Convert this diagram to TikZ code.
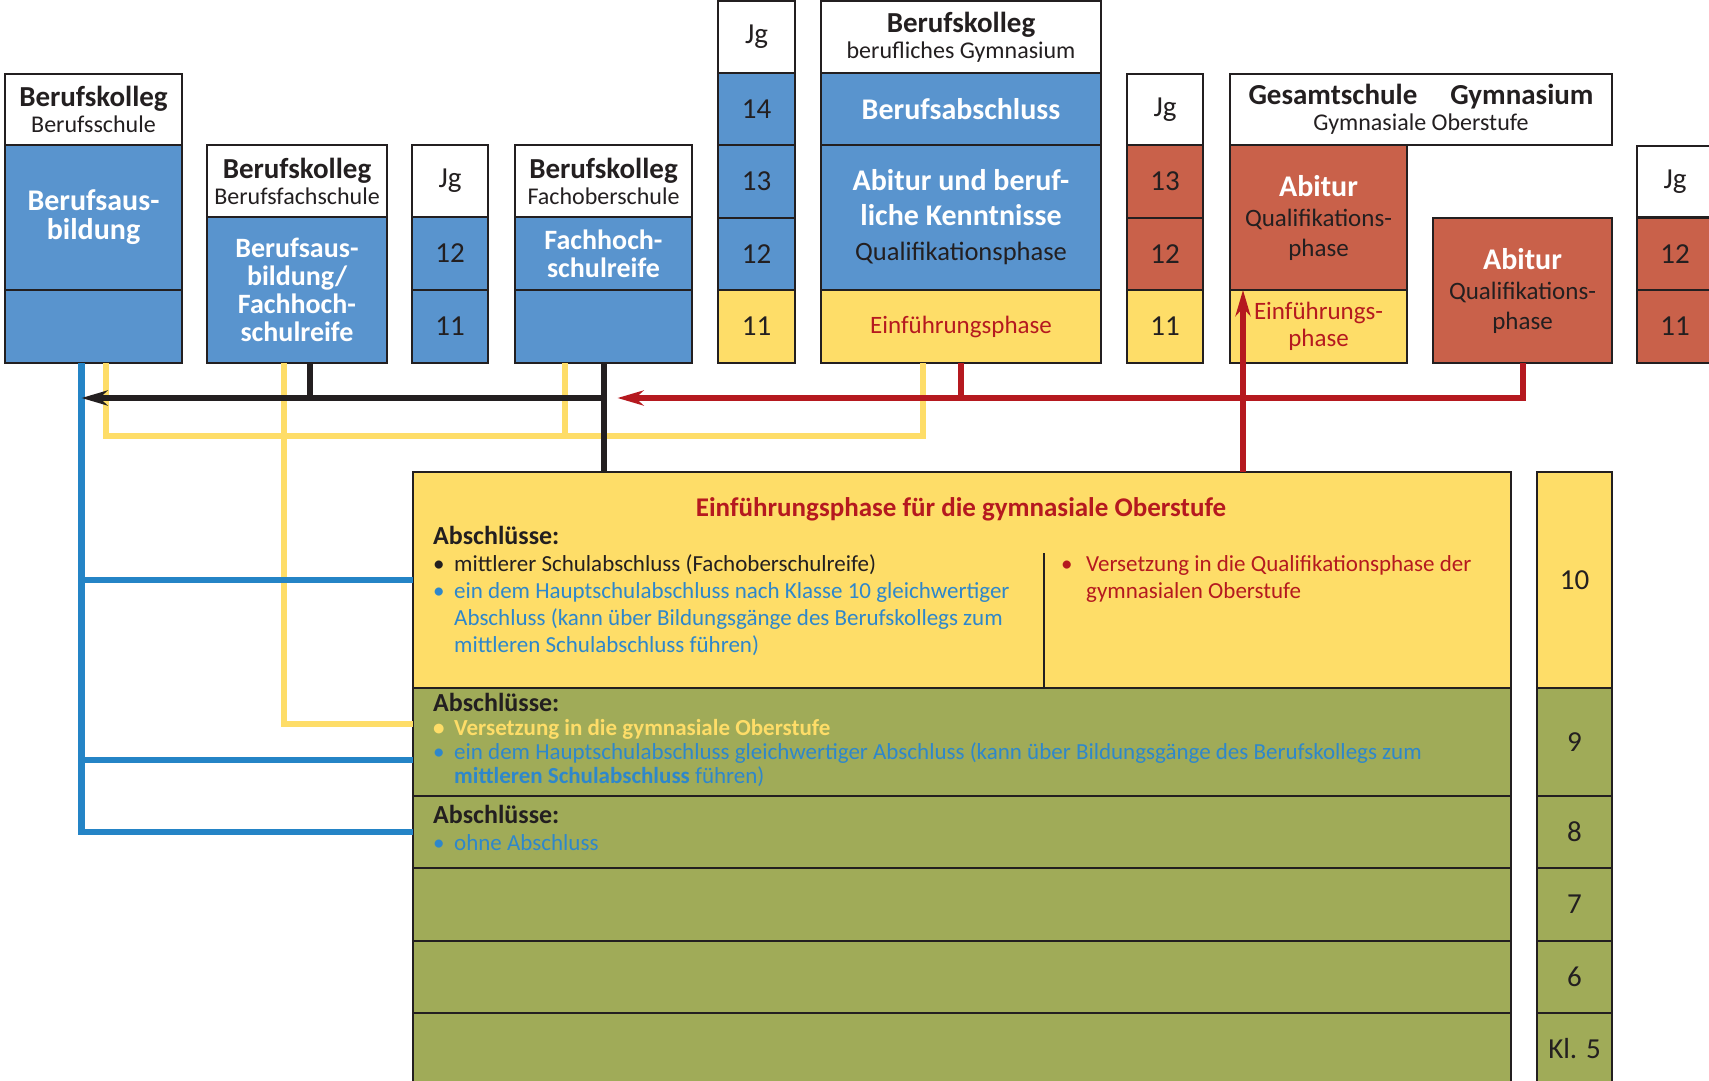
\documentclass[tikz,border=0pt]{standalone}
\usepackage{fontspec}
\setmainfont{Carlito}
\usetikzlibrary{arrows.meta}

\definecolor{kdark}{HTML}{231F20}
\definecolor{kblue}{HTML}{5994CE}
\definecolor{kblueline}{HTML}{2484C6}
\definecolor{kbluetxt}{HTML}{2E87CB}
\definecolor{kyellow}{HTML}{FEDD68}
\definecolor{ksalmon}{HTML}{C9614A}
\definecolor{kred}{HTML}{B5191F}
\definecolor{kgreen}{HTML}{A0AB58}

\newcommand\hdfont{\fontsize{29}{26}\selectfont\bfseries}
\newcommand\bdfont{\fontsize{30}{29}\selectfont\bfseries}
\newcommand\nrfont{\fontsize{29}{26}\selectfont}
\newcommand\bul{\makebox[21pt][l]{\textbullet}}
\newcommand\bulind{\hspace*{21pt}}

\tikzset{
  cell/.style 2 args={draw=kdark, line width=2pt, inner sep=0pt, outer sep=0pt,
    anchor=north west, align=center, text=kdark, minimum width=#1pt, minimum height=#2pt},
  headcell/.style={fill=white, font=\fontsize{24}{26}\selectfont},
  bluecell/.style={fill=kblue},
  yellowcell/.style={fill=kyellow},
  redcell/.style={fill=ksalmon},
  greencell/.style={fill=kgreen},
  bodytext/.style={text=white, font=\bdfont},
  bluepath/.style={draw=kblueline, line width=6.5pt},
  yellowpath/.style={draw=kyellow, line width=6pt},
  blackpath/.style={draw=kdark, line width=6pt},
  redpath/.style={draw=kred, line width=6pt},
  tip/.style={-{Stealth[length=26pt,width=15pt,inset=8pt]}},
  sektext/.style={anchor=north west, align=left, inner sep=0pt, text=kdark}
}

\begin{document}
\begin{tikzpicture}[x=1pt,y=-1pt]
	\useasboundingbox (0,0) rectangle (1709,1081);
	% Berufskolleg Berufsschule
		\node[cell={177}{71}, headcell] (bs-head) at (5,74) {{\hdfont Berufskolleg}\\Berufsschule};
		\node[cell={177}{145}, bluecell, bodytext] (bs-body) at (5,145) {Berufsaus-\\bildung};
		\node[cell={177}{73}, bluecell] (bs-low) at (5,290) {};
	% Berufskolleg Berufsfachschule
		\node[cell={180}{72}, headcell] (bfs-head) at (207,145) {{\hdfont Berufskolleg}\\Berufsfachschule};
		\node[cell={180}{146}, bluecell, bodytext, font=\fontsize{28}{28}\selectfont\bfseries] (bfs-body) at (207,217) {Berufsaus-\\bildung/\\Fachhoch-\\schulreife};
	% Jg 11-12
		\node[cell={76}{72}, headcell, font=\nrfont] (jga-head) at (412,145) {Jg};
		\node[cell={76}{73}, bluecell, font=\nrfont] (jga-12) at (412,217) {12};
		\node[cell={76}{73}, bluecell, font=\nrfont] (jga-11) at (412,290) {11};
	% Berufskolleg Fachoberschule
		\node[cell={177}{72}, headcell] (fos-head) at (515,145) {{\hdfont Berufskolleg}\\Fachoberschule};
		\node[cell={177}{73}, bluecell, bodytext, font=\fontsize{28}{28}\selectfont\bfseries] (fos-body) at (515,217) {Fachhoch-\\schulreife};
		\node[cell={177}{73}, bluecell] (fos-low) at (515,290) {};
	% Jg 11-14
		\node[cell={77}{72}, headcell, font=\nrfont] (jgb-head) at (718,1) {Jg};
		\foreach \g/\y/\c in {14/73/bluecell,13/145/bluecell,12/217.5/bluecell,11/290/yellowcell}{
			\node[cell={77}{72.5}, \c, font=\nrfont] (jgb-\g) at (718,\y) {\g};
			}
	% Berufskolleg berufliches Gymnasium
		\node[cell={280}{72}, headcell] (bg-head) at (821,1) {{\hdfont Berufskolleg}\\berufliches Gymnasium};
		\node[cell={280}{72}, bluecell, bodytext] (bg-abschl) at (821,73) {Berufsabschluss};
		\node[cell={280}{145}, bluecell, text=white, font=\fontsize{26.5}{35}\selectfont] (bg-qual) at (821,145)
			{{\bdfont Abitur und beruf-}\\{\bdfont liche Kenntnisse}\\{\color{kdark}Qualifikationsphase}};
		\node[cell={280}{73}, yellowcell, text=kred, font=\fontsize{25}{26}\selectfont] (bg-ef) at (821,290) {Einführungsphase};
	% Jg 11-13
		\node[cell={76}{71}, headcell, font=\nrfont] (jgc-head) at (1127,74) {Jg};
		\foreach \g/\y/\c in {13/145/redcell,12/217.5/redcell,11/290/yellowcell}{
			\node[cell={76}{72.5}, \c, font=\nrfont] (jgc-\g) at (1127,\y) {\g};
			}
	% Gesamtschule / Gymnasium
		\node[cell={382}{71}, headcell] (gy-head) at (1230,74) {{\hdfont Gesamtschule\hspace{33pt}Gymnasium}\\Gymnasiale Oberstufe};
		\node[cell={177}{145}, redcell, font=\fontsize{25}{30}\selectfont] (gy-qual) at (1230,145)
			{{\bdfont\color{white}Abitur}\\Qualifikations-\\phase};
		\node[cell={177}{73}, yellowcell, text=kred, font=\fontsize{25}{27}\selectfont] (gy-ef) at (1230,290) {Einführungs-\\phase};
		\node[cell={179}{145}, redcell, font=\fontsize{25}{30}\selectfont] (gy-abitur) at (1433,218)
			{{\bdfont\color{white}Abitur}\\Qualifikations-\\phase};
	% Jg 11-12 (G8)
		\node[cell={76}{71}, headcell, font=\nrfont] (jgd-head) at (1637,146) {Jg};
		\node[cell={76}{72.5}, redcell, font=\nrfont] (jgd-12) at (1637,217.5) {12};
		\node[cell={76}{72.5}, redcell, font=\nrfont] (jgd-11) at (1637,290) {11};
	% Sekundarstufe I and Klassen
		\foreach \k/\lbl/\y/\h/\c in {10/10/472/216/yellowcell,9/9/688/108/greencell,8/8/796/72/greencell,
				7/7/868/73/greencell,6/6/941/72/greencell,5/Kl. 5/1013/72/greencell}{
			\node[cell={1098}{\h}, \c] (sek-\k) at (413,\y) {};
			\node[cell={75}{\h}, \c, font=\nrfont] (kl-\k) at (1537,\y) {\lbl};
			}
		\node[text=kred, font=\fontsize{27}{27}\selectfont\bfseries] (sek-title) at (961,509)
			{Einführungsphase für die gymnasiale Oberstufe};
		\node[sektext, font=\fontsize{23}{27}\selectfont] (sek-10-left) at (433,526)
			{{\fontsize{26}{27}\selectfont\bfseries Abschlüsse:}\\
			\bul mittlerer Schulabschluss (Fachoberschulreife)\\
			{\color{kbluetxt}\bul ein dem Hauptschulabschluss nach Klasse 10 gleichwertiger}\\
			{\color{kbluetxt}\bulind Abschluss (kann über Bildungsgänge des Berufskollegs zum}\\
			{\color{kbluetxt}\bulind mittleren Schulabschluss führen)}};
		\draw[kdark, line width=2pt] (1044,553) -- (1044,688);
		\node[sektext, text=kred, font=\fontsize{23}{27}\selectfont] (sek-10-right) at (1061,555)
			{\makebox[25pt][l]{\textbullet}Versetzung in die Qualifikationsphase der\\
			\hspace*{25pt}gymnasialen Oberstufe};
		\node[sektext, font=\fontsize{23}{24}\selectfont] (sek-9-text) at (433,693)
			{{\fontsize{26}{24}\selectfont\bfseries Abschlüsse:}\\
			{\color{kyellow}\bfseries\bul Versetzung in die gymnasiale Oberstufe}\\
			{\color{kbluetxt}\bul ein dem Hauptschulabschluss gleichwertiger Abschluss (kann über Bildungsgänge des Berufskollegs zum}\\
			{\color{kbluetxt}\bulind\textbf{mittleren Schulabschluss} führen)}};
		\node[sektext, font=\fontsize{23}{27}\selectfont] (sek-8-text) at (433,805)
			{{\fontsize{26}{27}\selectfont\bfseries Abschlüsse:}\\
			{\color{kbluetxt}\bul ohne Abschluss}};
	% connecting lines
		\coordinate (yrail) at (0,436);
		\coordinate (rail) at (0,398);
		\draw[yellowpath] ([xshift=12pt]bs-low.south) |- ([xshift=-38pt]bg-ef.south |- yrail) -- ([xshift=-38pt]bg-ef.south);
		\draw[yellowpath] ([xshift=-39pt]fos-low.south) -- ([xshift=-39pt]fos-low.south |- yrail);
		\draw[yellowpath] ([xshift=-13pt]bfs-body.south) |- ([yshift=18pt]sek-9.west);
		\draw[bluepath] ([xshift=-12pt]bs-low.south) |- (sek-10.west);
		\draw[bluepath] ([xshift=-12pt]bs-low.south) |- ([yshift=-18pt]sek-9.west);
		\draw[bluepath] ([xshift=-12pt]bs-low.south) |- (sek-8.west);
		\draw[blackpath] ([xshift=13pt]bfs-body.south) -- ([xshift=13pt]bfs-body.south |- rail);
		\draw[blackpath] (fos-low.south) -- (fos-low.south |- sek-10.north);
		\draw[blackpath, tip] (fos-low.south |- rail) -- ([xshift=-12pt]bs-low.south |- rail);
		\draw[redpath] (gy-abitur.south) |- (bg-ef.south |- rail) -- (bg-ef.south);
		\draw[redpath, tip] (bg-ef.south |- rail) -- ([xshift=14pt]fos-low.south |- rail);
		\draw[redpath, tip] ([xshift=13pt]gy-ef.north west |- sek-10.north) -- ([xshift=13pt]gy-ef.north west);
\end{tikzpicture}
\end{document}
